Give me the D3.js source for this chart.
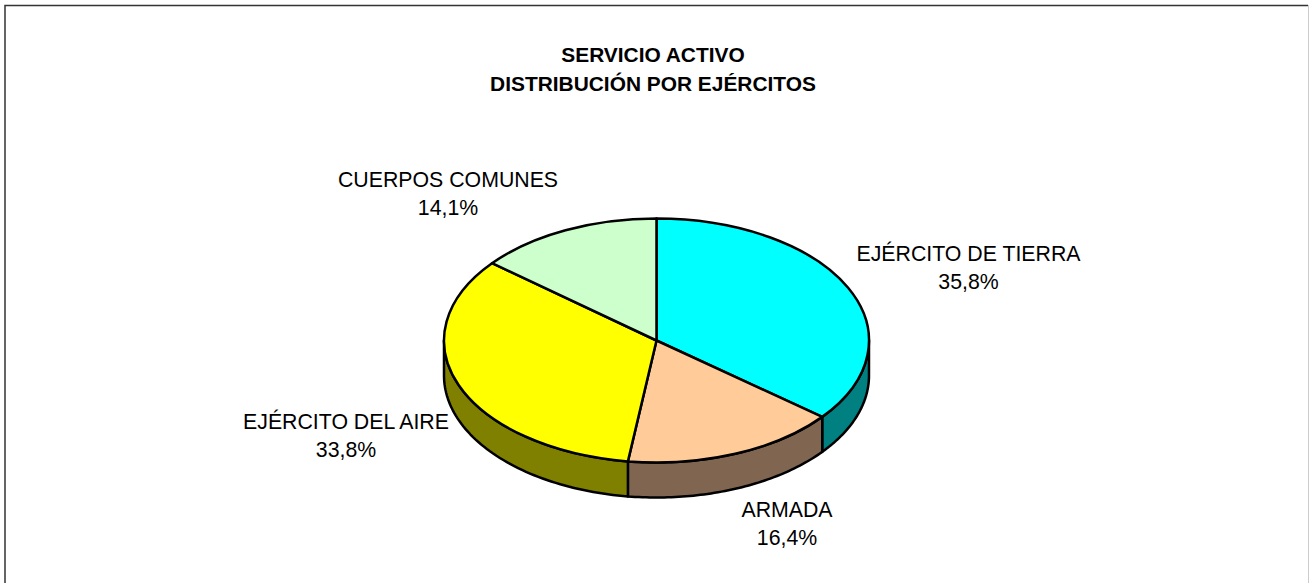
<!DOCTYPE html>
<html>
<head>
<meta charset="utf-8">
<script src="https://cdn.jsdelivr.net/npm/d3@7"></script>
<style>
    html, body { margin: 0; padding: 0; background: #fff; overflow: hidden; }
    text { font-family: "Liberation Sans", Arial, sans-serif; fill: #000; }
</style>
</head>
<body>
<div id="chart"></div>
<script>
const categories = ['EJÉRCITO DE TIERRA', 'ARMADA', 'EJÉRCITO DEL AIRE', 'CUERPOS COMUNES']
const shares = [35.8, 16.4, 33.8, 14.1]
const shareLabels = ['35,8%', '16,4%', '33,8%', '14,1%']
const titleLines = ['SERVICIO ACTIVO', 'DISTRIBUCIÓN POR EJÉRCITOS']

const topColors = ['#00ffff', '#ffcc99', '#ffff00', '#ccffcc']
const sideColors = ['#008080', '#806650', '#808000', '#668066']

const width = 1309, height = 583
const cx = 656.5, cy = 340.5, rx = 212.5, ry = 122, depth = 35
const labelPos = [[968.5, 261], [787, 517], [346, 429], [448, 187]]
const lineWidth = 2.5

const svg = d3.select('#chart').append('svg')
    .attr('width', width)
    .attr('height', height)
    .style('display', 'block')

// frame, no bottom edge in the original
svg.append('path')
    .attr('d', `M5,${height}V5.5H1308`)
    .attr('fill', 'none')
    .attr('stroke', '#333')
    .attr('stroke-width', 1.5)
svg.append('line')
    .attr('x1', 1308.5).attr('x2', 1308.5)
    .attr('y1', 5).attr('y2', height)
    .attr('stroke', '#ccc')

svg.append('g').selectAll('text')
    .data(titleLines)
    .enter().append('text')
    .attr('x', 653)
    .attr('y', (d, i) => 62 + i * 29)
    .attr('text-anchor', 'middle')
    .attr('font-size', 20.9)
    .attr('font-weight', 'bold')
    .text(d => d)

const pie = d3.pie().sort(null)
const slices = pie(shares)

const px = a => cx + rx * Math.sin(a)
const py = a => cy - ry * Math.cos(a)

// rim of the disc, only the front half can be seen
function sidePath(d) {
    const a0 = Math.max(d.startAngle, Math.PI / 2)
    const a1 = Math.min(d.endAngle, Math.PI * 3 / 2)
    if (a1 <= a0) return null
    const angles = d3.range(0, 61).map(i => a0 + (a1 - a0) * i / 60)
    const pts = angles.map(a => [px(a), py(a)])
        .concat(angles.slice().reverse().map(a => [px(a), py(a) + depth]))
    return d3.line()(pts) + 'Z'
}

svg.append('g').selectAll('path')
    .data(slices)
    .enter().append('path')
    .attr('d', sidePath)
    .attr('fill', (d, i) => sideColors[i])
    .attr('stroke', '#000')
    .attr('stroke-width', lineWidth)
    .attr('stroke-linejoin', 'round')

const arc = d3.arc().innerRadius(0).outerRadius(rx)

svg.append('g')
    .attr('transform', `translate(${cx},${cy}) scale(1,${ry / rx})`)
    .selectAll('path')
    .data(slices)
    .enter().append('path')
    .attr('d', arc)
    .attr('fill', (d, i) => topColors[i])
    .attr('stroke', '#000')
    .attr('stroke-width', lineWidth)
    .attr('stroke-linejoin', 'round')
    .attr('vector-effect', 'non-scaling-stroke')

const labels = svg.append('g').selectAll('g')
    .data(categories)
    .enter().append('g')
    .attr('transform', (d, i) => `translate(${labelPos[i][0]},${labelPos[i][1]})`)

labels.append('text')
    .attr('text-anchor', 'middle')
    .attr('font-size', 21.3)
    .text(d => d)

labels.append('text')
    .attr('y', 28)
    .attr('text-anchor', 'middle')
    .attr('font-size', 21.3)
    .text((d, i) => shareLabels[i])
</script>
</body>
</html>
